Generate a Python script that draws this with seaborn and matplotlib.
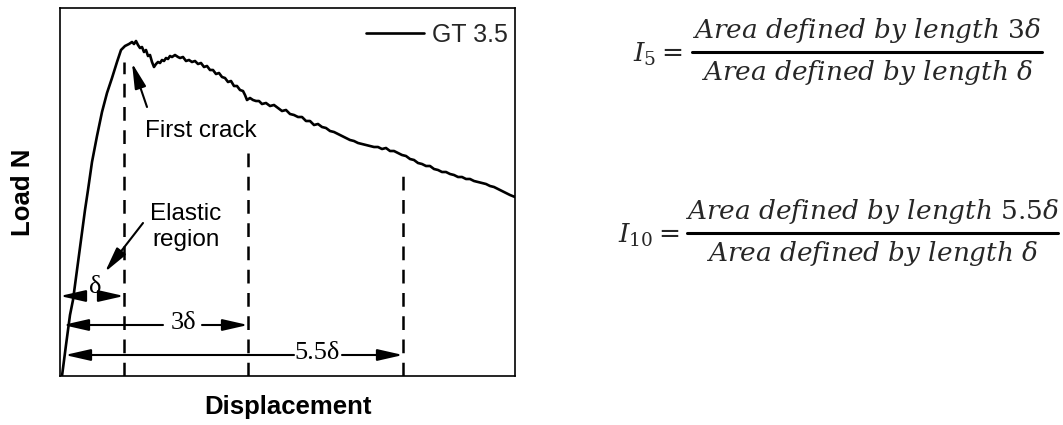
import matplotlib
matplotlib.use("Agg")
import matplotlib.pyplot as plt
import seaborn as sns
import pandas as pd
from matplotlib.lines import Line2D

# ---------------- data ----------------
series_name = "GT 3.5"
displacement = [0.02, 0.06, 0.10, 0.13, 0.17, 0.21, 0.25, 0.28, 0.32, 0.37, 0.42, 0.47, 0.52, 0.57,
                0.61, 0.65, 0.69, 0.72, 0.74, 0.76, 0.78, 0.80, 0.82, 0.84, 0.86, 0.88, 0.90, 0.92,
                0.94, 0.96, 0.98, 1.00, 1.02, 1.04, 1.06, 1.08, 1.10, 1.12, 1.15, 1.18, 1.20, 1.23,
                1.26, 1.29, 1.32, 1.35, 1.38, 1.41, 1.44, 1.47, 1.50, 1.53, 1.56, 1.59, 1.62, 1.65,
                1.68, 1.71, 1.74, 1.77, 1.80, 1.83, 1.85, 1.87, 1.90, 1.93, 1.96, 1.99, 2.02,
                2.06, 2.10, 2.14, 2.18, 2.22, 2.26, 2.30, 2.34, 2.38, 2.42, 2.46, 2.50, 2.54, 2.58,
                2.62, 2.66, 2.70, 2.74, 2.78, 2.82, 2.86, 2.90, 2.94, 2.98, 3.02, 3.06, 3.10, 3.14,
                3.18, 3.22, 3.26, 3.30, 3.34, 3.38,
                3.42, 3.46, 3.50, 3.54, 3.58, 3.62, 3.66, 3.70, 3.74, 3.78, 3.82, 3.86, 3.90, 3.94,
                3.98, 4.02, 4.06, 4.10, 4.14, 4.18, 4.22, 4.26, 4.30, 4.34, 4.38, 4.42, 4.46, 4.50,
                4.55]
load = [0.00, 0.31, 0.61, 0.76, 1.06, 1.36, 1.66, 1.86, 2.14, 2.40, 2.64, 2.83, 2.98, 3.14,
        3.26, 3.30, 3.32, 3.34, 3.32, 3.35, 3.31, 3.28, 3.29, 3.24, 3.26, 3.20, 3.21, 3.14,
        3.09, 3.12, 3.14, 3.13, 3.16, 3.15, 3.18, 3.17, 3.20, 3.19, 3.21, 3.19, 3.18, 3.19,
        3.15, 3.16, 3.14, 3.15, 3.12, 3.13, 3.09, 3.10, 3.06, 3.06, 3.02, 3.03, 2.99, 2.98,
        2.94, 2.95, 2.90, 2.90, 2.86, 2.85, 2.81, 2.76, 2.78, 2.76, 2.75, 2.75, 2.72,
        2.73, 2.70, 2.71, 2.68, 2.65, 2.66, 2.62, 2.61, 2.59, 2.59, 2.55, 2.55, 2.51, 2.52,
        2.49, 2.48, 2.45, 2.44, 2.42, 2.40, 2.38, 2.36, 2.35, 2.33, 2.32, 2.31, 2.30, 2.29,
        2.29, 2.27, 2.28, 2.25, 2.25, 2.23,
        2.21, 2.20, 2.17, 2.16, 2.13, 2.12, 2.10, 2.10, 2.07, 2.06, 2.04, 2.04, 2.02, 2.01,
        1.99, 1.99, 1.97, 1.97, 1.95, 1.94, 1.93, 1.92, 1.90, 1.89, 1.87, 1.85, 1.83, 1.81,
        1.79]

# reference displacements (delta, 3 delta, 5.5 delta) and dashed-line tops
ref_disp = [0.64, 1.88, 3.43]
ref_top = [3.14, 2.28, 2.08]
ref_labels = ["δ", "3δ", "5.5δ"]

eq_lhs = [r"$I_5 =$", r"$I_{10} =$"]
eq_num = [r"$\mathit{Area\ defined\ by\ length}\ 3\delta$",
          r"$\mathit{Area\ defined\ by\ length}\ 5.5\delta$"]
eq_den = [r"$\mathit{Area\ defined\ by\ length}\ \delta$",
          r"$\mathit{Area\ defined\ by\ length}\ \delta$"]

# ---------------- figure ----------------
sns.set_theme(style="white")
plt.rcParams["font.family"] = ["Liberation Sans", "DejaVu Sans"]
plt.rcParams["mathtext.fontset"] = "dejavuserif"

W, H = 1063, 425
fig = plt.figure(figsize=(W / 100, H / 100), dpi=100)
ax = fig.add_axes([60 / W, 1 - 376 / H, 455 / W, 368 / H])

df = pd.DataFrame({"Displacement": displacement, "Load": load, "Specimen": series_name})
sns.lineplot(data=df, x="Displacement", y="Load", hue="Specimen", palette=["black"],
             estimator=None, linewidth=1.9, ax=ax)

ax.set_xlim(0, 4.55)
ax.set_ylim(0, 3.68)
ax.set_xticks([])
ax.set_yticks([])
for s in ax.spines.values():
    s.set_color("black")
    s.set_linewidth(1.2)

ax.set_xlabel("Displacement", fontsize=18.5, fontweight="bold", labelpad=14, color="black")
ax.set_ylabel("Load N", fontsize=18.5, fontweight="bold", labelpad=18, color="black")

handles, labels = ax.get_legend_handles_labels()
ax.legend(handles, labels, loc="upper right", bbox_to_anchor=(0.985, 0.96), frameon=False,
          fontsize=18, handlelength=2.3, handletextpad=0.35, borderpad=0, borderaxespad=0)

# dashed reference lines
for xd, yt in zip(ref_disp, ref_top):
    ax.plot([xd, xd], [0, yt], color="black", lw=1.8, linestyle=(0, (5.5, 3.8)))

serif = ["Liberation Serif", "DejaVu Serif"]
ap = dict(arrowstyle="-|>,head_length=1.1,head_width=0.25", color="black", lw=1.5,
          mutation_scale=14, shrinkA=0, shrinkB=0)

# delta arrows: (y, left start, left tip, right start, right tip, label x, label y)
arrow_rows = [
    (0.80, 0.25, 0.00, 0.45, ref_disp[0], 0.35, 0.89),
    (0.51, 1.03, 0.03, 1.42, ref_disp[1], 1.23, 0.53),
    (0.21, 2.34, 0.05, 2.82, ref_disp[2], 2.575, 0.23),
]
for (yy, ls, lt, rs, rt, lx, ly), lab in zip(arrow_rows, ref_labels):
    ax.annotate("", xy=(lt, yy), xytext=(ls, yy), arrowprops=ap)
    ax.annotate("", xy=(rt, yy), xytext=(rs, yy), arrowprops=ap)
    ax.text(lx, ly, lab, ha="center", va="center", fontsize=19, family=serif, color="black")

# annotations
ax.text(1.41, 2.45, "First crack", ha="center", va="center", fontsize=17.5, color="black")
ax.annotate("", xy=(0.72, 3.13), xytext=(0.87, 2.69), arrowprops=ap)
ax.text(1.26, 1.49, "Elastic\nregion", ha="center", va="center", fontsize=17.5,
        linespacing=1.25, color="black")
ax.annotate("", xy=(0.45, 1.04), xytext=(0.83, 1.53), arrowprops=ap)

# equations
eq_rows = [  # bar y, bar x0, bar x1, lhs right x
    (52, 692, 1042, 683),
    (233, 687, 1058, 679),
]
for (by, x0, x1, lx), lhs, num, den in zip(eq_rows, eq_lhs, eq_num, eq_den):
    cx = (x0 + x1) / 2
    fig.add_artist(Line2D([x0 / W, x1 / W], [1 - by / H, 1 - by / H], color="black", lw=2.2))
    fig.text(cx / W, 1 - (by - 14) / H, num, ha="center", va="baseline", fontsize=19)
    fig.text(cx / W, 1 - (by + 28) / H, den, ha="center", va="baseline", fontsize=19)
    fig.text(lx / W, 1 - (by + 10) / H, lhs, ha="right", va="baseline", fontsize=19)

fig.savefig("out.png", dpi=100)
